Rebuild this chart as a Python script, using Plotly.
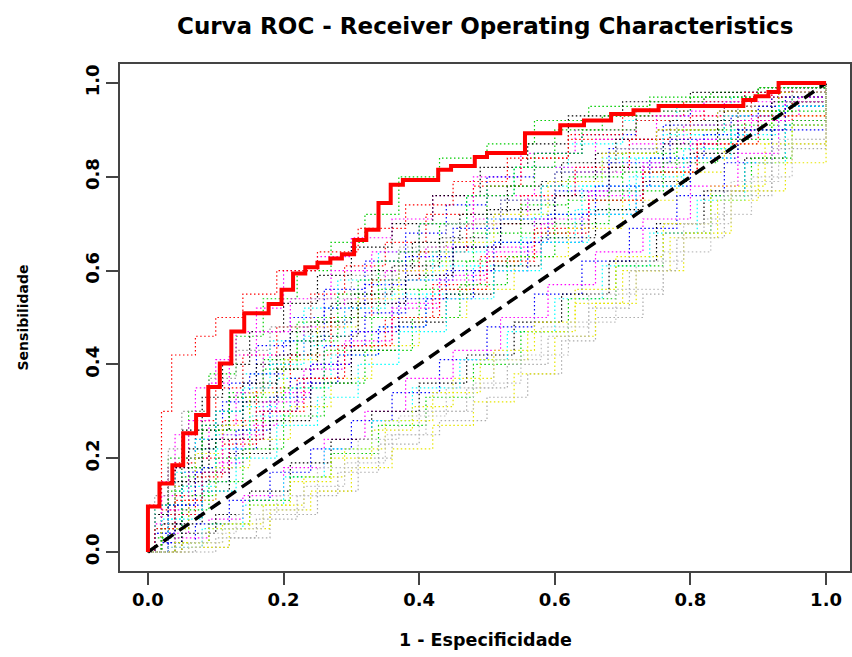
import plotly.graph_objects as go

# ---- data ----
title = "Curva ROC - Receiver Operating Characteristics"
x_label = "1 - Especificidade"
y_label = "Sensibilidade"
tick_vals = [0.0, 0.2, 0.4, 0.6, 0.8, 1.0]
tick_text = ["0.0", "0.2", "0.4", "0.6", "0.8", "1.0"]

red_fpr = [0, 0, 0.017, 0.036, 0.052, 0.071, 0.089, 0.106, 0.123, 0.142, 0.178, 0.197, 0.214,
           0.232, 0.250, 0.269, 0.286, 0.304, 0.322, 0.340, 0.358, 0.376, 0.428, 0.447, 0.482,
           0.500, 0.556, 0.608, 0.643, 0.683, 0.716, 0.753, 0.878, 0.896, 0.915, 0.930, 1.0]
red_tpr = [0, 0.097, 0.146, 0.185, 0.253, 0.292, 0.352, 0.402, 0.470, 0.509, 0.529, 0.559, 0.594,
           0.607, 0.617, 0.626, 0.635, 0.665, 0.687, 0.744, 0.783, 0.793, 0.815, 0.823, 0.842,
           0.851, 0.893, 0.910, 0.920, 0.934, 0.942, 0.951, 0.964, 0.972, 0.981, 1.0, 1.0]

diag_x = [0, 1]
diag_y = [0, 1]

bg_fpr = [
    # high envelope group
    [0, 0.01, 0.03, 0.06, 0.09, 0.13, 0.17, 0.22, 0.27, 0.32, 0.37, 0.43, 0.5, 0.57, 0.65, 0.74, 0.83, 0.92, 1],
    [0, 0.02, 0.04, 0.07, 0.1, 0.13, 0.16, 0.2, 0.25, 0.3, 0.36, 0.42, 0.48, 0.55, 0.63, 0.72, 0.82, 0.92, 1],
    [0, 0.01, 0.03, 0.05, 0.08, 0.11, 0.15, 0.2, 0.25, 0.3, 0.36, 0.42, 0.49, 0.56, 0.62, 0.7, 0.8, 0.9, 1],
    [0, 0.02, 0.05, 0.08, 0.12, 0.16, 0.21, 0.26, 0.32, 0.38, 0.44, 0.5, 0.57, 0.64, 0.72, 0.8, 0.88, 0.95, 1],
    [0, 0.01, 0.04, 0.07, 0.1, 0.14, 0.18, 0.23, 0.28, 0.34, 0.4, 0.47, 0.54, 0.62, 0.7, 0.78, 0.86, 0.93, 1],
    [0, 0.02, 0.04, 0.07, 0.1, 0.14, 0.19, 0.24, 0.29, 0.35, 0.41, 0.48, 0.55, 0.62, 0.7, 0.79, 0.88, 0.95, 1],
    # upper group
    [0, 0, 0.02, 0.035, 0.07, 0.1, 0.14, 0.19, 0.25, 0.31, 0.38, 0.45, 0.53, 0.62, 0.72, 0.82, 0.92, 1],
    [0, 0.01, 0.03, 0.06, 0.09, 0.12, 0.16, 0.21, 0.27, 0.33, 0.4, 0.48, 0.57, 0.66, 0.75, 0.85, 0.93, 1],
    [0, 0.02, 0.05, 0.08, 0.12, 0.17, 0.22, 0.28, 0.34, 0.4, 0.47, 0.54, 0.6, 0.67, 0.74, 0.82, 0.9, 1],
    [0, 0.01, 0.04, 0.07, 0.11, 0.15, 0.2, 0.26, 0.32, 0.38, 0.45, 0.52, 0.6, 0.68, 0.76, 0.84, 0.92, 1],
    [0, 0.02, 0.04, 0.08, 0.12, 0.16, 0.21, 0.27, 0.33, 0.39, 0.46, 0.53, 0.61, 0.69, 0.77, 0.85, 0.93, 1],
    [0, 0.03, 0.06, 0.1, 0.14, 0.19, 0.24, 0.3, 0.36, 0.43, 0.5, 0.57, 0.64, 0.72, 0.8, 0.88, 0.95, 1],
    [0, 0.01, 0.03, 0.06, 0.1, 0.15, 0.2, 0.25, 0.31, 0.37, 0.43, 0.5, 0.57, 0.64, 0.72, 0.8, 0.9, 1],
    [0, 0.02, 0.05, 0.09, 0.13, 0.17, 0.23, 0.29, 0.35, 0.41, 0.48, 0.56, 0.63, 0.71, 0.79, 0.87, 0.94, 1],
    # upper-middle group
    [0, 0.01, 0.03, 0.06, 0.1, 0.14, 0.19, 0.24, 0.3, 0.36, 0.43, 0.5, 0.58, 0.66, 0.75, 0.85, 0.93, 1],
    [0, 0.02, 0.04, 0.07, 0.11, 0.16, 0.21, 0.27, 0.33, 0.4, 0.47, 0.55, 0.63, 0.71, 0.8, 0.89, 1],
    [0, 0.03, 0.05, 0.08, 0.12, 0.17, 0.22, 0.28, 0.34, 0.41, 0.48, 0.55, 0.62, 0.7, 0.78, 0.87, 0.95, 1],
    [0, 0.02, 0.05, 0.08, 0.12, 0.16, 0.21, 0.26, 0.32, 0.38, 0.45, 0.52, 0.6, 0.68, 0.77, 0.86, 0.94, 1],
    [0, 0.01, 0.04, 0.07, 0.1, 0.14, 0.18, 0.23, 0.29, 0.35, 0.42, 0.5, 0.58, 0.67, 0.76, 0.85, 0.93, 1],
    [0, 0.03, 0.06, 0.1, 0.14, 0.19, 0.24, 0.3, 0.36, 0.43, 0.5, 0.57, 0.65, 0.73, 0.81, 0.89, 0.96, 1],
    [0, 0.02, 0.04, 0.07, 0.11, 0.15, 0.2, 0.25, 0.31, 0.37, 0.44, 0.51, 0.59, 0.67, 0.75, 0.84, 0.93, 1],
    [0, 0.01, 0.03, 0.05, 0.09, 0.13, 0.18, 0.24, 0.3, 0.37, 0.44, 0.52, 0.6, 0.69, 0.78, 0.87, 0.95, 1],
    # middle group
    [0, 0.02, 0.05, 0.09, 0.14, 0.19, 0.25, 0.31, 0.38, 0.45, 0.52, 0.6, 0.68, 0.76, 0.84, 0.92, 1],
    [0, 0.03, 0.07, 0.11, 0.16, 0.22, 0.28, 0.35, 0.42, 0.49, 0.57, 0.65, 0.73, 0.81, 0.88, 0.95, 1],
    [0, 0.02, 0.06, 0.1, 0.15, 0.2, 0.26, 0.33, 0.4, 0.47, 0.55, 0.62, 0.7, 0.78, 0.86, 0.93, 1],
    [0, 0.01, 0.04, 0.08, 0.13, 0.18, 0.24, 0.3, 0.37, 0.44, 0.51, 0.59, 0.66, 0.74, 0.82, 0.9, 1],
    [0, 0.02, 0.05, 0.1, 0.15, 0.21, 0.27, 0.34, 0.41, 0.48, 0.55, 0.63, 0.71, 0.79, 0.86, 0.93, 1],
    [0, 0.03, 0.06, 0.11, 0.17, 0.23, 0.29, 0.36, 0.43, 0.5, 0.58, 0.65, 0.73, 0.8, 0.87, 0.94, 1],
    [0, 0.02, 0.06, 0.1, 0.15, 0.21, 0.27, 0.33, 0.4, 0.47, 0.54, 0.62, 0.7, 0.78, 0.85, 0.92, 1],
    [0, 0.04, 0.08, 0.12, 0.18, 0.24, 0.3, 0.37, 0.44, 0.51, 0.58, 0.66, 0.73, 0.8, 0.87, 0.94, 1],
    [0, 0.03, 0.07, 0.12, 0.17, 0.22, 0.28, 0.34, 0.41, 0.48, 0.56, 0.64, 0.72, 0.8, 0.87, 0.94, 1],
    [0, 0.02, 0.05, 0.09, 0.14, 0.2, 0.26, 0.32, 0.39, 0.46, 0.53, 0.6, 0.68, 0.76, 0.84, 0.92, 1],
    [0, 0.03, 0.08, 0.13, 0.19, 0.25, 0.31, 0.37, 0.44, 0.51, 0.58, 0.65, 0.72, 0.79, 0.86, 0.93, 1],
    [0, 0.01, 0.04, 0.08, 0.12, 0.17, 0.23, 0.29, 0.36, 0.43, 0.5, 0.57, 0.65, 0.73, 0.81, 0.9, 1],
    # near-diagonal group
    [0, 0.03, 0.07, 0.12, 0.18, 0.24, 0.3, 0.36, 0.43, 0.5, 0.57, 0.64, 0.71, 0.78, 0.85, 0.92, 1],
    [0, 0.04, 0.09, 0.14, 0.2, 0.26, 0.32, 0.38, 0.45, 0.52, 0.59, 0.66, 0.73, 0.8, 0.87, 0.93, 1],
    [0, 0.05, 0.1, 0.15, 0.21, 0.27, 0.33, 0.4, 0.47, 0.54, 0.61, 0.68, 0.75, 0.82, 0.88, 0.94, 1],
    [0, 0.03, 0.08, 0.14, 0.2, 0.26, 0.33, 0.39, 0.46, 0.53, 0.6, 0.67, 0.74, 0.81, 0.88, 0.94, 1],
    [0, 0.04, 0.09, 0.15, 0.21, 0.27, 0.34, 0.41, 0.48, 0.55, 0.62, 0.69, 0.76, 0.83, 0.89, 0.95, 1],
    [0, 0.05, 0.11, 0.17, 0.23, 0.29, 0.35, 0.42, 0.49, 0.56, 0.63, 0.7, 0.77, 0.84, 0.9, 0.95, 1],
    # below-diagonal group
    [0, 0.07, 0.12, 0.18, 0.25, 0.31, 0.36, 0.43, 0.5, 0.56, 0.61, 0.66, 0.73, 0.76, 0.82, 0.85, 0.92, 1],
    [0, 0.06, 0.12, 0.18, 0.24, 0.3, 0.36, 0.42, 0.48, 0.54, 0.6, 0.66, 0.72, 0.79, 0.86, 0.94, 1],
    [0, 0.05, 0.1, 0.16, 0.22, 0.28, 0.34, 0.4, 0.47, 0.53, 0.59, 0.65, 0.71, 0.78, 0.85, 0.92, 1],
    [0, 0.04, 0.09, 0.15, 0.21, 0.27, 0.33, 0.39, 0.45, 0.51, 0.57, 0.63, 0.69, 0.76, 0.83, 0.91, 1],
    [0, 0.06, 0.11, 0.17, 0.23, 0.29, 0.35, 0.41, 0.48, 0.55, 0.62, 0.69, 0.76, 0.83, 0.89, 0.95, 1],
    [0, 0.03, 0.08, 0.13, 0.19, 0.25, 0.31, 0.37, 0.44, 0.51, 0.58, 0.65, 0.72, 0.79, 0.86, 0.93, 1],
]
bg_tpr = [
    # high envelope group
    [0, 0.1, 0.2, 0.3, 0.38, 0.46, 0.54, 0.6, 0.66, 0.72, 0.8, 0.84, 0.87, 0.92, 0.95, 0.97, 0.98, 0.99, 1],
    [0, 0.15, 0.25, 0.35, 0.41, 0.47, 0.52, 0.6, 0.63, 0.67, 0.71, 0.76, 0.8, 0.85, 0.9, 0.94, 0.97, 0.99, 1],
    [0, 0.08, 0.18, 0.26, 0.33, 0.4, 0.47, 0.53, 0.59, 0.65, 0.7, 0.76, 0.82, 0.87, 0.93, 0.96, 0.98, 0.99, 1],
    [0, 0.06, 0.17, 0.27, 0.36, 0.44, 0.5, 0.56, 0.62, 0.68, 0.74, 0.8, 0.85, 0.89, 0.93, 0.96, 0.98, 0.99, 1],
    [0, 0.05, 0.13, 0.22, 0.3, 0.38, 0.45, 0.52, 0.58, 0.64, 0.7, 0.76, 0.82, 0.87, 0.92, 0.95, 0.97, 0.99, 1],
    [0, 0.09, 0.19, 0.28, 0.35, 0.42, 0.48, 0.55, 0.61, 0.66, 0.72, 0.78, 0.84, 0.89, 0.93, 0.96, 0.98, 0.99, 1],
    # upper group
    [0, 0.1, 0.3, 0.42, 0.46, 0.5, 0.55, 0.6, 0.64, 0.69, 0.74, 0.79, 0.84, 0.88, 0.92, 0.95, 0.98, 1],
    [0, 0.06, 0.18, 0.28, 0.36, 0.42, 0.47, 0.54, 0.6, 0.64, 0.7, 0.76, 0.82, 0.88, 0.93, 0.96, 0.98, 1],
    [0, 0.08, 0.16, 0.26, 0.34, 0.41, 0.49, 0.55, 0.62, 0.7, 0.76, 0.82, 0.9, 0.93, 0.96, 0.97, 0.99, 1],
    [0, 0.04, 0.14, 0.24, 0.32, 0.38, 0.45, 0.52, 0.57, 0.63, 0.69, 0.75, 0.81, 0.86, 0.91, 0.94, 0.97, 1],
    [0, 0.1, 0.18, 0.26, 0.33, 0.4, 0.47, 0.53, 0.6, 0.66, 0.72, 0.78, 0.83, 0.88, 0.92, 0.95, 0.98, 1],
    [0, 0.08, 0.17, 0.25, 0.31, 0.37, 0.44, 0.5, 0.55, 0.61, 0.66, 0.72, 0.78, 0.84, 0.89, 0.93, 0.97, 1],
    [0, 0.03, 0.1, 0.18, 0.26, 0.33, 0.42, 0.5, 0.58, 0.64, 0.7, 0.78, 0.85, 0.9, 0.94, 0.97, 0.99, 1],
    [0, 0.12, 0.2, 0.27, 0.34, 0.42, 0.48, 0.54, 0.6, 0.65, 0.71, 0.76, 0.81, 0.87, 0.91, 0.94, 0.96, 1],
    # upper-middle group
    [0, 0.08, 0.15, 0.22, 0.3, 0.36, 0.42, 0.49, 0.55, 0.61, 0.67, 0.73, 0.79, 0.85, 0.9, 0.94, 0.97, 1],
    [0, 0.05, 0.12, 0.2, 0.28, 0.35, 0.42, 0.5, 0.58, 0.64, 0.7, 0.76, 0.82, 0.88, 0.93, 0.97, 1],
    [0, 0.13, 0.2, 0.27, 0.33, 0.39, 0.45, 0.5, 0.56, 0.62, 0.68, 0.74, 0.8, 0.85, 0.9, 0.94, 0.97, 1],
    [0, 0.02, 0.08, 0.15, 0.22, 0.3, 0.37, 0.44, 0.51, 0.58, 0.65, 0.71, 0.77, 0.83, 0.88, 0.93, 0.97, 1],
    [0, 0.1, 0.17, 0.24, 0.3, 0.35, 0.4, 0.46, 0.52, 0.58, 0.64, 0.71, 0.78, 0.84, 0.89, 0.93, 0.96, 1],
    [0, 0.04, 0.11, 0.19, 0.27, 0.34, 0.4, 0.47, 0.53, 0.59, 0.65, 0.71, 0.77, 0.83, 0.88, 0.93, 0.97, 1],
    [0, 0.06, 0.14, 0.21, 0.27, 0.34, 0.41, 0.48, 0.54, 0.6, 0.66, 0.72, 0.79, 0.85, 0.9, 0.94, 0.98, 1],
    [0, 0.12, 0.22, 0.3, 0.37, 0.43, 0.48, 0.54, 0.59, 0.65, 0.7, 0.75, 0.81, 0.86, 0.91, 0.95, 0.98, 1],
    # middle group
    [0, 0.06, 0.15, 0.24, 0.32, 0.39, 0.46, 0.53, 0.59, 0.65, 0.7, 0.76, 0.82, 0.87, 0.92, 0.96, 1],
    [0, 0.08, 0.16, 0.23, 0.3, 0.37, 0.44, 0.5, 0.57, 0.63, 0.69, 0.75, 0.81, 0.87, 0.92, 0.96, 1],
    [0, 0.05, 0.12, 0.2, 0.28, 0.35, 0.43, 0.5, 0.56, 0.62, 0.68, 0.75, 0.81, 0.86, 0.91, 0.96, 1],
    [0, 0.04, 0.1, 0.18, 0.26, 0.33, 0.4, 0.47, 0.54, 0.6, 0.66, 0.72, 0.78, 0.84, 0.89, 0.95, 1],
    [0, 0.07, 0.14, 0.22, 0.29, 0.35, 0.42, 0.48, 0.55, 0.61, 0.67, 0.73, 0.8, 0.86, 0.9, 0.95, 1],
    [0, 0.09, 0.17, 0.25, 0.32, 0.39, 0.45, 0.52, 0.58, 0.64, 0.7, 0.76, 0.82, 0.87, 0.92, 0.96, 1],
    [0, 0.05, 0.11, 0.18, 0.24, 0.31, 0.37, 0.44, 0.5, 0.56, 0.63, 0.69, 0.75, 0.81, 0.87, 0.93, 1],
    [0, 0.06, 0.13, 0.21, 0.28, 0.36, 0.43, 0.49, 0.55, 0.61, 0.67, 0.73, 0.79, 0.85, 0.9, 0.95, 1],
    [0, 0.1, 0.17, 0.24, 0.3, 0.36, 0.42, 0.48, 0.54, 0.6, 0.66, 0.72, 0.78, 0.84, 0.9, 0.95, 1],
    [0, 0.03, 0.09, 0.15, 0.22, 0.29, 0.36, 0.43, 0.5, 0.57, 0.63, 0.7, 0.77, 0.83, 0.88, 0.94, 1],
    [0, 0.07, 0.13, 0.2, 0.27, 0.33, 0.4, 0.47, 0.54, 0.6, 0.66, 0.72, 0.78, 0.84, 0.89, 0.95, 1],
    [0, 0.05, 0.11, 0.17, 0.24, 0.3, 0.37, 0.44, 0.5, 0.56, 0.62, 0.68, 0.75, 0.81, 0.87, 0.93, 1],
    # near-diagonal group
    [0, 0.02, 0.06, 0.11, 0.17, 0.22, 0.28, 0.34, 0.41, 0.48, 0.55, 0.62, 0.69, 0.76, 0.83, 0.9, 1],
    [0, 0.03, 0.07, 0.12, 0.18, 0.24, 0.3, 0.37, 0.43, 0.5, 0.57, 0.64, 0.71, 0.78, 0.85, 0.92, 1],
    [0, 0.04, 0.08, 0.13, 0.19, 0.24, 0.3, 0.36, 0.42, 0.49, 0.55, 0.62, 0.7, 0.77, 0.84, 0.91, 1],
    [0, 0.01, 0.05, 0.1, 0.16, 0.22, 0.28, 0.35, 0.41, 0.47, 0.54, 0.61, 0.68, 0.75, 0.83, 0.91, 1],
    [0, 0.02, 0.06, 0.11, 0.16, 0.21, 0.27, 0.33, 0.4, 0.47, 0.54, 0.61, 0.68, 0.76, 0.84, 0.92, 1],
    [0, 0.02, 0.06, 0.1, 0.16, 0.22, 0.28, 0.34, 0.41, 0.47, 0.53, 0.6, 0.67, 0.75, 0.83, 0.91, 1],
    # below-diagonal group
    [0, 0.01, 0.03, 0.08, 0.13, 0.2, 0.25, 0.28, 0.33, 0.38, 0.45, 0.5, 0.55, 0.68, 0.71, 0.77, 0.86, 1],
    [0, 0.01, 0.05, 0.09, 0.13, 0.18, 0.22, 0.27, 0.32, 0.38, 0.46, 0.53, 0.6, 0.68, 0.77, 0.83, 1],
    [0, 0.0, 0.03, 0.07, 0.12, 0.17, 0.23, 0.3, 0.35, 0.4, 0.46, 0.52, 0.6, 0.67, 0.76, 0.87, 1],
    [0, 0.02, 0.05, 0.1, 0.15, 0.2, 0.26, 0.31, 0.37, 0.43, 0.49, 0.56, 0.63, 0.7, 0.78, 0.87, 1],
    [0, 0.02, 0.05, 0.09, 0.14, 0.19, 0.25, 0.3, 0.36, 0.42, 0.49, 0.56, 0.64, 0.72, 0.8, 0.88, 1],
    [0, 0.01, 0.04, 0.08, 0.12, 0.18, 0.24, 0.29, 0.35, 0.41, 0.48, 0.55, 0.62, 0.7, 0.79, 0.88, 1],
]
bg_colors = [
    "#00CD00", "magenta", "black", "blue", "cyan", "red",
    "red", "magenta", "#00CD00", "blue", "black", "cyan", "#00CD00", "magenta",
    "black", "red", "#00CD00", "blue", "cyan", "magenta", "#E6E600", "#999999",
    "black", "red", "#00CD00", "blue", "cyan", "magenta", "#E6E600", "black",
    "blue", "#00CD00", "cyan", "red",
    "blue", "magenta", "black", "cyan", "#00CD00", "#E6E600",
    "#AAAAAA", "#E6E600", "#AAAAAA", "#E6E600", "#BEBEBE", "#BEBEBE",
]

# ---- figure ----
fig = go.Figure()
for fx, ty, col in zip(bg_fpr, bg_tpr, bg_colors):
    fig.add_trace(go.Scatter(x=fx, y=ty, mode="lines", line_shape="hv",
                             line=dict(color=col, width=1.2, dash="1.5px,2.5px"),
                             showlegend=False, hoverinfo="skip"))

fig.add_trace(go.Scatter(x=diag_x, y=diag_y, mode="lines",
                         line=dict(color="black", width=3.5, dash="12px,7px"),
                         showlegend=False))
fig.add_trace(go.Scatter(x=red_fpr, y=red_tpr, mode="lines", line_shape="hv",
                         line=dict(color="#FF0000", width=4),
                         showlegend=False))

font_fam = "DejaVu Sans, Liberation Sans, Arial, sans-serif"
axis_common = dict(
    showgrid=False, zeroline=False, showline=True, linecolor="#444444", linewidth=1.5,
    mirror=True, ticks="outside", ticklen=12, tickwidth=1.5, tickcolor="#444444",
    tickvals=tick_vals, ticktext=["<b>%s</b>" % t for t in tick_text],
    tickfont=dict(family=font_fam, size=18, color="black"),
)
fig.update_xaxes(range=[-0.0412, 1.0353], **axis_common)
fig.update_yaxes(range=[-0.0405, 1.0405], tickangle=-90, **axis_common)

fig.update_layout(
    width=852, height=657,
    margin=dict(l=120, r=0, t=64, b=86),
    plot_bgcolor="white", paper_bgcolor="white",
    font=dict(family=font_fam, color="black"),
    annotations=[
        dict(text="<b>%s</b>" % title, xref="paper", yref="paper", x=0.5, y=1,
             yshift=38, xanchor="center", yanchor="middle", showarrow=False,
             font=dict(size=23, family=font_fam, color="black")),
        dict(text="<b>%s</b>" % x_label, xref="paper", yref="paper", x=0.5, y=0,
             yshift=-69, xanchor="center", yanchor="middle", showarrow=False,
             font=dict(size=17.5, family=font_fam, color="black")),
        dict(text="<b>%s</b>" % y_label, xref="paper", yref="paper", x=0, y=0.5,
             xshift=-98, xanchor="center", yanchor="middle", showarrow=False,
             textangle=-90, font=dict(size=14, family=font_fam, color="black")),
    ],
)

fig.write_html("out.html")
